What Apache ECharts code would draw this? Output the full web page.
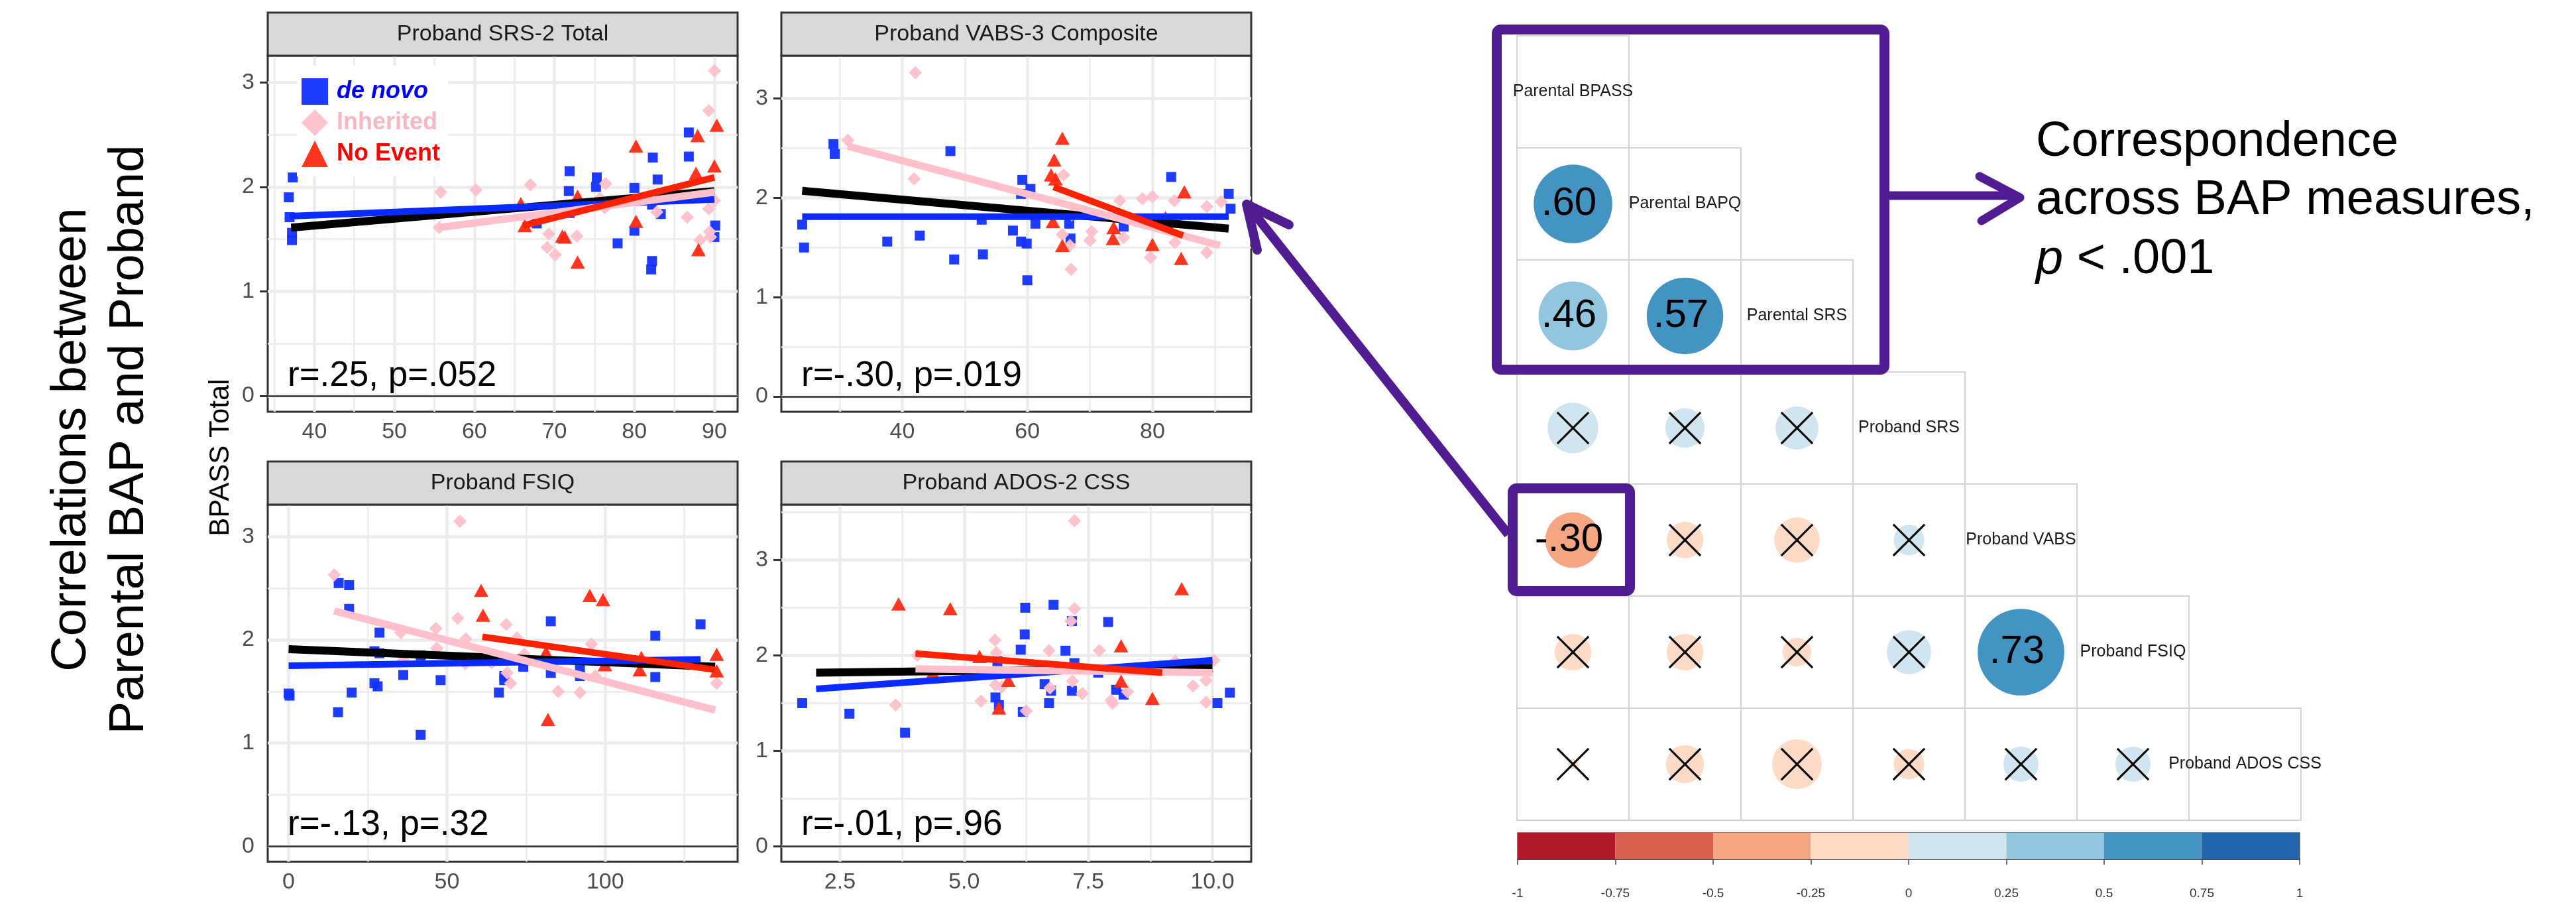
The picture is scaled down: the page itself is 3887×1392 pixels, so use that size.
<!DOCTYPE html>
<html><head><meta charset="utf-8">
<script src="https://cdn.jsdelivr.net/npm/echarts@6/dist/echarts.min.js"></script>
<style>html,body{margin:0;padding:0;background:#fff}#c{width:3887px;height:1392px}</style>
</head><body><div id="c"></div>
<script>
// ---------------- DATA ----------------
const panelTitles = ['Proband SRS-2 Total', 'Proband VABS-3 Composite', 'Proband FSIQ', 'Proband ADOS-2 CSS'];
const panelNotes = ['r=.25, p=.052', 'r=-.30, p=.019', 'r=-.13, p=.32', 'r=-.01, p=.96'];
const groupNames = ['de novo', 'Inherited', 'No Event'];

const xRange = [[34.17, 92.9], [20.67, 95.8], [-6.6, 141.8], [1.32, 10.78]];
const yRange = [[-0.152, 3.255], [-0.153, 3.43], [-0.148, 3.31], [-0.16, 3.58]];
const xMajorTicks = [[40, 50, 60, 70, 80, 90], [40, 60, 80], [0, 50, 100], [2.5, 5, 7.5, 10]];
const xMinorTicks = [[35, 45, 55, 65, 75, 85], [30, 50, 70, 90], [25, 75, 125], [3.75, 6.25, 8.75]];
const yMajorTicks = [0, 1, 2, 3];
const yMinorTicks = [[0.5, 1.5, 2.5], [0.5, 1.5, 2.5], [0.5, 1.5, 2.5], [0.5, 1.5, 2.5, 3.5]];

const p1DeNovo = [[36.8,1.90],[37.3,2.09],[36.9,1.71],[37.2,1.56],[37.2,1.49],[71.9,2.15],[71.8,1.96],[71.9,1.75],[67.8,1.65],[75.3,2.09],[75.2,2.00],[77.9,1.46],[80.0,1.99],[80.0,1.58],[82.3,2.28],[82.9,2.07],[82.2,1.29],[82.1,1.21],[83.3,1.74],[82.2,1.83],[86.8,2.52],[86.8,2.29],[90.1,1.63],[90.0,1.52]];
const p1Inherited = [[55.8,1.95],[60.2,1.97],[55.6,1.61],[67.0,2.02],[69.3,1.55],[69.1,1.42],[70.1,1.35],[72.8,1.53],[76.4,2.03],[75.7,1.89],[76.3,1.80],[82.8,1.76],[86.6,1.71],[88.2,1.49],[89.4,1.57],[89.5,1.52],[89.3,1.79],[90.0,1.87],[89.3,2.73],[90.0,3.11]];
const p1NoEvent = [[65.8,1.84],[66.3,1.63],[71.0,1.53],[71.3,1.52],[72.9,1.91],[72.9,1.28],[80.2,2.39],[80.2,1.67],[87.9,2.49],[87.7,2.13],[88.0,1.40],[90.3,2.59],[90.0,2.20]];
const p1FitAll = [[37.1,1.61],[90.0,1.96]];
const p1FitDeNovo = [[36.9,1.72],[90.0,1.88]];
const p1FitInherited = [[55.5,1.61],[90.0,1.95]];
const p1FitNoEvent = [[66.1,1.63],[90.0,2.09]];

const p2DeNovo = [[24.0,1.73],[24.3,1.50],[29.0,2.54],[29.2,2.44],[37.6,1.56],[42.8,1.62],[47.7,2.47],[48.3,1.38],[52.7,1.78],[52.9,1.43],[57.7,1.67],[59.0,1.56],[59.2,2.18],[59.0,2.04],[60.5,2.09],[59.9,1.54],[60.0,1.17],[61.3,1.74],[66.7,1.74],[66.9,1.59],[75.4,1.71],[83.0,2.21],[92.2,2.04],[92.5,1.89]];
const p2Inherited = [[31.3,2.58],[42.1,3.26],[41.9,2.19],[65.8,2.23],[65.6,1.63],[66.8,1.52],[67.0,1.28],[70.3,1.66],[70.0,1.57],[74.8,1.97],[75.4,1.60],[78.4,1.99],[80.0,2.01],[83.5,1.97],[79.7,1.40],[83.6,1.55],[88.7,1.91],[88.7,1.45],[91.0,1.96],[67.1,1.83]];
const p2NoEvent = [[65.6,2.60],[64.3,2.38],[63.8,2.23],[64.5,2.19],[64.1,1.76],[65.6,1.52],[73.8,1.70],[73.7,1.59],[80.0,1.53],[82.1,1.80],[85.1,2.06],[84.6,1.39],[82.3,1.74]];
const p2FitAll = [[24.0,2.07],[92.2,1.69]];
const p2FitDeNovo = [[24.0,1.81],[92.2,1.81]];
const p2FitInherited = [[31.3,2.52],[90.8,1.52]];
const p2FitNoEvent = [[64.2,2.11],[84.9,1.62]];

const p3DeNovo = [[0,1.48],[0.3,1.46],[15.8,2.55],[19.1,2.53],[19.1,2.30],[15.6,1.30],[19.9,1.49],[28.7,2.07],[27.1,1.89],[28.7,1.87],[27.1,1.58],[28.1,1.55],[36.2,1.66],[41.7,1.85],[41.7,1.08],[48.0,1.61],[66.4,1.49],[68.1,1.65],[68.1,1.61],[74.1,1.74],[82.8,2.18],[82.8,1.68],[92.0,1.74],[92.0,1.65],[115.8,2.04],[115.8,1.64],[130.1,2.15]];
const p3Inherited = [[14.4,2.63],[54.1,3.15],[53.4,2.21],[46.5,2.11],[46.8,1.92],[35.4,2.07],[36.2,1.80],[56.0,2.01],[55.8,1.77],[64.1,1.78],[68.7,2.15],[72.1,2.02],[74.4,1.86],[70.1,1.58],[69.0,1.68],[85.1,1.50],[92.0,1.49],[95.6,1.96],[96.8,1.65],[135.2,1.58]];
const p3NoEvent = [[60.8,2.48],[61.4,2.24],[81.3,1.88],[81.9,1.23],[95.1,2.43],[99.3,2.39],[99.9,1.76],[110.9,1.71],[111.4,1.83],[135.2,1.86],[135.2,1.70]];
const p3FitAll = [[0,1.91],[134.7,1.74]];
const p3FitDeNovo = [[0,1.75],[130.1,1.81]];
const p3FitInherited = [[14.4,2.28],[134.7,1.32]];
const p3FitNoEvent = [[61.2,2.03],[134.7,1.71]];

const p4DeNovo = [[1.74,1.50],[2.69,1.39],[3.81,1.19],[5.63,1.56],[5.70,1.48],[5.67,1.94],[6.14,2.06],[6.22,2.22],[6.23,2.50],[6.18,1.41],[6.62,1.70],[6.75,1.63],[6.71,1.50],[6.80,2.53],[7.04,2.05],[7.17,2.36],[7.17,1.63],[7.22,1.92],[7.70,1.82],[7.90,2.35],[8.06,1.64],[8.21,1.59],[10.1,1.50],[10.35,1.61]];
const p4Inherited = [[3.62,1.48],[4.06,2.00],[5.34,1.52],[5.62,2.16],[5.65,2.03],[5.63,1.69],[5.76,1.67],[6.25,1.42],[6.71,2.05],[6.73,1.66],[7.22,3.41],[7.22,2.49],[7.15,2.36],[7.18,1.73],[7.38,1.60],[7.72,2.05],[7.96,1.53],[7.99,1.50],[8.29,1.62],[9.25,1.94],[9.61,1.68],[9.87,1.74],[9.87,1.51],[10.03,1.95]];
const p4NoEvent = [[3.68,2.54],[4.72,2.49],[5.31,1.99],[4.37,1.82],[5.89,1.74],[5.70,1.45],[8.16,2.10],[8.16,1.73],[8.79,1.55],[9.38,2.70]];
const p4FitAll = [[2.02,1.82],[10.0,1.87]];
const p4FitDeNovo = [[2.02,1.65],[10.0,1.95]];
const p4FitInherited = [[4.02,1.86],[10.0,1.82]];
const p4FitNoEvent = [[4.02,2.02],[8.99,1.82]];

const matrixLabels = ['Parental BPASS', 'Parental BAPQ', 'Parental SRS', 'Proband SRS', 'Proband VABS', 'Proband FSIQ', 'Proband ADOS CSS'];
const corrLower = [[], [0.60], [0.46, 0.57], [0.25, 0.15, 0.18], [-0.30, -0.13, -0.20, 0.09], [-0.13, -0.13, -0.08, 0.19, 0.73], [-0.01, -0.14, -0.24, -0.09, 0.12, 0.12]];
const sigLower = [[], [1], [1, 1], [0, 0, 0], [1, 0, 0, 0], [0, 0, 0, 0, 1], [0, 0, 0, 0, 0, 0]];
const colorBreaks = [-1, -0.75, -0.5, -0.25, 0, 0.25, 0.5, 0.75, 1];

const sideText = ['Correspondence', 'across BAP measures,', '{i|p} < .001'];
const titleLines = ['Correlations between', 'Parental BAP and Proband'];

// ---------------- LAYOUT / STYLE ----------------
const FONT = "'Liberation Sans', Arial, Helvetica, sans-serif";
const PURPLE = '#4F1D91';
const palette = ['#B2182B', '#D6604D', '#F4A582', '#FDDBC7', '#D1E5F0', '#92C5DE', '#4393C3', '#2166AC'];
const panelBox = [{left: 404, top: 84, height: 537}, {left: 1179, top: 84, height: 537}, {left: 404, top: 761, height: 538.5}, {left: 1179, top: 761, height: 538.5}];
const PANEL_W = 709, STRIP_H = 65;
const groupColor = ['#1232FF', '#FFC0CB', '#FF2A14'];
const lineColor = ['#0A2BFF', '#FFC0CB', '#FF2200'];

const panelData = [
  [p1DeNovo, p1Inherited, p1NoEvent, p1FitAll, p1FitDeNovo, p1FitInherited, p1FitNoEvent],
  [p2DeNovo, p2Inherited, p2NoEvent, p2FitAll, p2FitDeNovo, p2FitInherited, p2FitNoEvent],
  [p3DeNovo, p3Inherited, p3NoEvent, p3FitAll, p3FitDeNovo, p3FitInherited, p3FitNoEvent],
  [p4DeNovo, p4Inherited, p4NoEvent, p4FitAll, p4FitDeNovo, p4FitInherited, p4FitNoEvent]
];

const grids = [], xAxes = [], yAxes = [], series = [], graphics = [];

for (let i = 0; i < 4; i++) {
  const b = panelBox[i];
  grids.push({left: b.left, top: b.top, width: PANEL_W, height: b.height, show: true, backgroundColor: '#fff', borderColor: '#333', borderWidth: 3, containLabel: false});
  const xfmt = i === 3 ? (v => v.toFixed(1)) : (v => String(v));
  xAxes.push({
    gridIndex: i, type: 'value', min: xRange[i][0], max: xRange[i][1],
    axisLine: {show: false}, splitLine: {show: false},
    axisTick: {show: true, customValues: xMajorTicks[i], length: 12, lineStyle: {color: '#333', width: 3}},
    axisLabel: {customValues: xMajorTicks[i], color: '#4D4D4D', fontSize: 34, fontFamily: FONT, margin: 14, formatter: xfmt}
  });
  yAxes.push({
    gridIndex: i, type: 'value', min: yRange[i][0], max: yRange[i][1],
    axisLine: {show: false}, splitLine: {show: false},
    axisTick: {show: true, customValues: yMajorTicks, length: 12, lineStyle: {color: '#333', width: 3}},
    axisLabel: {customValues: yMajorTicks, color: '#4D4D4D', fontSize: 34, fontFamily: FONT, margin: 20}
  });
  const ml = [];
  xMinorTicks[i].forEach(v => ml.push({xAxis: v, lineStyle: {color: '#EBEBEB', width: 2.5, type: 'solid'}}));
  yMinorTicks[i].forEach(v => ml.push({yAxis: v, lineStyle: {color: '#EBEBEB', width: 2.5, type: 'solid'}}));
  xMajorTicks[i].forEach(v => ml.push({xAxis: v, lineStyle: {color: '#EBEBEB', width: 4.5, type: 'solid'}}));
  yMajorTicks.forEach(v => ml.push({yAxis: v, lineStyle: {color: '#EBEBEB', width: 4.5, type: 'solid'}}));
  ml.push({yAxis: 0, lineStyle: {color: '#333', width: 2.5, type: 'solid'}});
  series.push({type: 'scatter', xAxisIndex: i, yAxisIndex: i, data: [], silent: true, z: 1,
    markLine: {silent: true, z: 1, zlevel: 0, symbol: ['none', 'none'], label: {show: false}, emphasis: {disabled: true}, animation: false, data: ml}});
  const d = panelData[i];
  const sym = ['rect', 'diamond', 'triangle'];
  const symSize = [15, [20, 20], [22, 20]];
  for (let g = 0; g < 3; g++) {
    series.push({name: groupNames[g], type: 'scatter', xAxisIndex: i, yAxisIndex: i, data: d[g], symbol: sym[g], symbolSize: symSize[g],
      itemStyle: {color: groupColor[g], opacity: 0.95}, z: 3, silent: true});
  }
  const fitColors = ['#000000'].concat(lineColor);
  const fitWidth = [12, 10, 11, 10];
  for (let f = 0; f < 4; f++) {
    series.push({name: 'fit' + f, type: 'line', xAxisIndex: i, yAxisIndex: i, data: d[3 + f], symbol: 'none', silent: true,
      lineStyle: {color: fitColors[f], width: fitWidth[f], cap: 'butt'}, z: 4 + f});
  }
  // strip
  graphics.push({type: 'rect', shape: {x: b.left, y: b.top - STRIP_H, width: PANEL_W, height: STRIP_H}, style: {fill: '#D9D9D9', stroke: '#333', lineWidth: 3}, z: 50});
  graphics.push({type: 'text', x: b.left + PANEL_W / 2, y: b.top - STRIP_H / 2, style: {text: panelTitles[i], font: '34px ' + FONT, fill: '#1A1A1A', align: 'center', verticalAlign: 'middle'}, z: 51});
  graphics.push({type: 'text', x: b.left + 30, y: b.top + 483, style: {text: panelNotes[i], font: '53px ' + FONT, fill: '#000', align: 'left', verticalAlign: 'middle'}, z: 51});
}

// correlation matrix grid (index 4)
grids.push({left: 2289, top: 54, width: 1183, height: 1183, show: false});
xAxes.push({gridIndex: 4, type: 'category', data: matrixLabels, show: false});
yAxes.push({gridIndex: 4, type: 'category', data: matrixLabels, inverse: true, show: false});
const matrixData = [];
for (let r = 0; r < matrixLabels.length; r++) {
  for (let c = 0; c < r; c++) matrixData.push([c, r, corrLower[r][c], sigLower[r][c], 0]);
  matrixData.push([r, r, 0, 0, 1]);
}
function binColor(v) {
  let k = Math.ceil((v + 1) / 0.25 - 1e-9) - 1;
  k = Math.max(0, Math.min(7, k));
  return palette[k];
}
function fmtR(v) { return (v < 0 ? '-' : '') + Math.abs(v).toFixed(2).replace(/^0/, ''); }
series.push({
  type: 'custom', xAxisIndex: 4, yAxisIndex: 4, data: matrixData, silent: true, z: 10,
  encode: {x: 0, y: 1},
  renderItem: function (params, api) {
    const col = api.value(0), row = api.value(1), r = api.value(2), sig = api.value(3), diag = api.value(4);
    const c = api.coord([col, row]);
    const s = api.size([1, 1]);
    const w = s[0], h = s[1];
    const ch = [{type: 'rect', shape: {x: c[0] - w / 2, y: c[1] - h / 2, width: w, height: h}, style: {fill: 'none', stroke: '#D4D4D4', lineWidth: 2}}];
    if (diag) {
      ch.push({type: 'text', style: {text: matrixLabels[col], x: c[0], y: c[1], align: 'center', verticalAlign: 'middle', font: '25px ' + FONT, fill: '#1A1A1A'}});
    } else {
      const rad = 0.4527 * w * Math.sqrt(Math.abs(r));
      ch.push({type: 'circle', shape: {cx: c[0], cy: c[1], r: rad}, style: {fill: binColor(r)}});
      if (sig) {
        ch.push({type: 'text', style: {text: fmtR(r), x: c[0] - 6, y: c[1], align: 'center', verticalAlign: 'middle', font: '60px ' + FONT, fill: '#000'}});
      } else {
        const a = 0.14 * w;
        ch.push({type: 'line', shape: {x1: c[0] - a, y1: c[1] - a, x2: c[0] + a, y2: c[1] + a}, style: {stroke: '#000', lineWidth: 3}});
        ch.push({type: 'line', shape: {x1: c[0] + a, y1: c[1] - a, x2: c[0] - a, y2: c[1] + a}, style: {stroke: '#000', lineWidth: 3}});
      }
    }
    return {type: 'group', children: ch};
  }
});

// colour bar (index 5)
grids.push({left: 2290, top: 1256, width: 1180, height: 40, show: true, borderColor: '#555', borderWidth: 1.5, backgroundColor: 'transparent'});
xAxes.push({gridIndex: 5, type: 'value', min: -1, max: 1, interval: 0.25,
  axisLine: {show: true, lineStyle: {color: '#444', width: 2}}, splitLine: {show: false},
  axisTick: {show: true, length: 8, lineStyle: {color: '#444', width: 1.5}},
  axisLabel: {fontSize: 19, color: '#333', fontFamily: FONT, margin: 42}});
yAxes.push({gridIndex: 5, type: 'category', data: ['bar'], show: false});
const barData = [];
for (let k = 0; k < 8; k++) barData.push([colorBreaks[k], colorBreaks[k + 1], 0, k]);
series.push({
  type: 'custom', xAxisIndex: 5, yAxisIndex: 5, data: barData, silent: true, z: 5,
  encode: {x: [0, 1], y: 2},
  renderItem: function (params, api) {
    const p0 = api.coord([api.value(0), 0]);
    const p1 = api.coord([api.value(1), 0]);
    const hh = api.size([0, 1])[1];
    return {type: 'rect', shape: {x: p0[0], y: p0[1] - hh / 2, width: p1[0] - p0[0], height: hh}, style: {fill: palette[api.value(3)]}};
  }
});

// titles and annotations
graphics.push({type: 'text', x: 109, y: 663, rotation: Math.PI / 2, style: {text: titleLines[0], font: '74px ' + FONT, fill: '#000', align: 'center', verticalAlign: 'middle'}, z: 60});
graphics.push({type: 'text', x: 196, y: 663, rotation: Math.PI / 2, style: {text: titleLines[1], font: '74px ' + FONT, fill: '#000', align: 'center', verticalAlign: 'middle'}, z: 60});
graphics.push({type: 'text', x: 333, y: 690, rotation: Math.PI / 2, style: {text: 'BPASS Total', font: '42px ' + FONT, fill: '#000', align: 'center', verticalAlign: 'middle'}, z: 60});
const sideY = [215, 303, 392];
for (let k = 0; k < 3; k++) {
  graphics.push({type: 'text', x: 3072, y: sideY[k], style: {text: sideText[k], font: '74px ' + FONT, fill: '#000', align: 'left', verticalAlign: 'middle',
    rich: {i: {fontStyle: 'italic', fontSize: 74, fontFamily: FONT, fill: '#000'}}}, z: 60});
}
// purple boxes and arrows
graphics.push({type: 'rect', shape: {x: 2258.5, y: 44.5, width: 585, height: 513, r: 6}, style: {fill: 'transparent', stroke: PURPLE, lineWidth: 15}, z: 90});
graphics.push({type: 'rect', shape: {x: 2282.5, y: 736.5, width: 177, height: 155, r: 6}, style: {fill: 'transparent', stroke: PURPLE, lineWidth: 15}, z: 90});
graphics.push({type: 'polyline', shape: {points: [[2851, 295], [3044, 295]]}, style: {stroke: PURPLE, lineWidth: 13, fill: null, lineCap: 'butt'}, z: 90});
graphics.push({type: 'polyline', shape: {points: [[2987, 266], [3048, 298], [2990, 333]]}, style: {stroke: PURPLE, lineWidth: 13, fill: null, lineCap: 'round', lineJoin: 'round'}, z: 90});
graphics.push({type: 'polyline', shape: {points: [[2276, 806], [1886, 314]]}, style: {stroke: PURPLE, lineWidth: 14, fill: null, lineCap: 'butt'}, z: 90});
graphics.push({type: 'polyline', shape: {points: [[1945, 339], [1881, 308], [1897, 377]]}, style: {stroke: PURPLE, lineWidth: 14, fill: null, lineCap: 'round', lineJoin: 'round'}, z: 90});

const option = {
  animation: false,
  backgroundColor: '#fff',
  textStyle: {fontFamily: FONT},
  grid: grids, xAxis: xAxes, yAxis: yAxes, series: series,
  legend: {
    left: 448, top: 99, orient: 'vertical', backgroundColor: '#fff', padding: [19, 12, 14, 7],
    itemWidth: 40, itemHeight: 40, itemGap: 7, selectedMode: false, z: 20,
    textStyle: {fontSize: 36, fontWeight: 'bold', fontFamily: FONT, padding: [0, 0, 0, 8]},
    data: [
      {name: groupNames[0], icon: 'rect', textStyle: {color: '#0000FF', fontStyle: 'italic', fontWeight: 'bold', fontSize: 36}},
      {name: groupNames[1], icon: 'diamond', textStyle: {color: '#F5B8C4', fontWeight: 'bold', fontSize: 36}},
      {name: groupNames[2], icon: 'triangle', textStyle: {color: '#FF0000', fontWeight: 'bold', fontSize: 36}}
    ]
  },
  graphic: {elements: graphics}
};
const chart = echarts.init(document.getElementById('c'));
chart.setOption(option);
</script></body></html>
